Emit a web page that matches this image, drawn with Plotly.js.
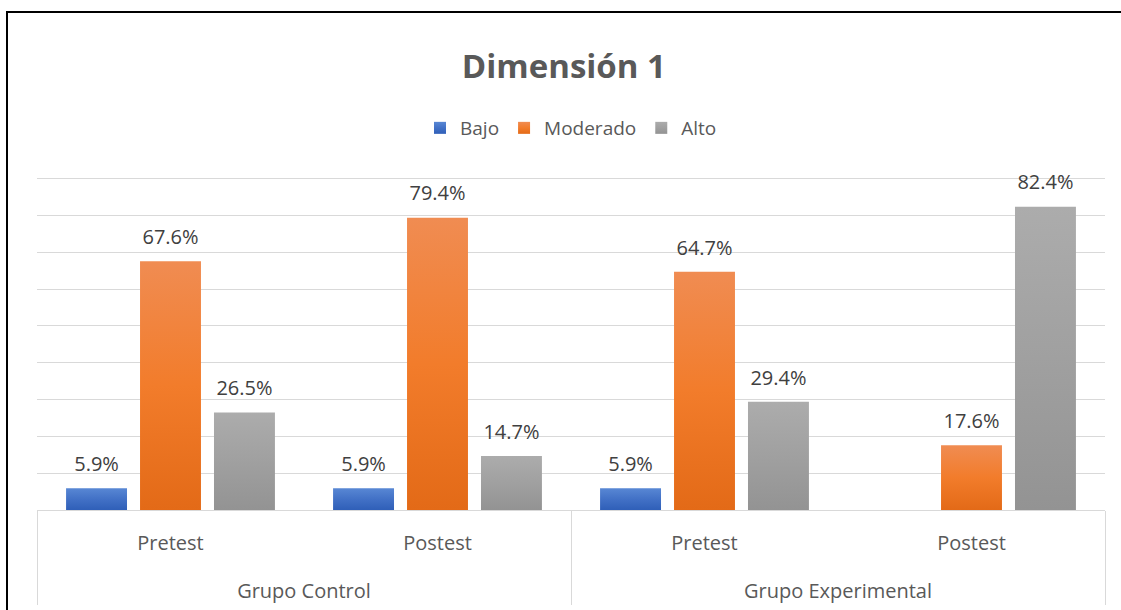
<!DOCTYPE html>
<html>
<head>
<meta charset="utf-8">
<script src="https://cdn.plot.ly/plotly-3.0.1.min.js"></script>
<style>
  html, body { margin: 0; padding: 0; background: #ffffff; overflow: hidden; }
  #chart { position: absolute; left: 0; top: 0; width: 1121px; height: 610px; }
  #frame { position: absolute; left: 6px; top: 11px; width: 1200px; height: 700px;
           border-left: 2px solid #000; border-top: 2px solid #000; pointer-events: none; }
</style>
</head>
<body>
<div id="chart"></div>
<div id="frame"></div>
<script>
// ---- data ----
const groups = ["Grupo Control", "Grupo Control", "Grupo Experimental", "Grupo Experimental"];
const phases = ["Pretest", "Postest", "Pretest", "Postest"];
const bajo = [5.9, 5.9, 5.9, null];
const moderado = [67.6, 79.4, 64.7, 17.6];
const alto = [26.5, 14.7, 29.4, 82.4];
const seriesNames = ["Bajo", "Moderado", "Alto"];
const seriesColors = ["#4472C4", "#ED7D31", "#A5A5A5"];
// Excel-like vertical gradients (top -> bottom) for each series
const seriesGradients = [
  ["#5887D4", "#4271C6", "#2F5FB8"],
  ["#F08C52", "#F27C2B", "#E36A17"],
  ["#ACACAC", "#A0A0A0", "#939393"]
];

const FONT = "Open Sans, Noto Sans, sans-serif";
const values = [bajo, moderado, alto];

// first-level labels get a blank second line so the group row sits lower (Excel-like spacing)
const phaseLabels = phases.map(p => p + "<br><span style='font-size:45px'>&nbsp;</span>");
const xCats = [groups, phaseLabels];

const barTraces = values.map((v, i) => ({
  type: "bar",
  name: seriesNames[i],
  x: xCats,
  y: v,
  marker: { color: seriesColors[i], line: { width: 0 } },
  hoverinfo: "skip"
}));

// value labels, grouped like the bars
const labelTraces = values.map((v, i) => ({
  type: "scatter",
  mode: "text+markers",
  showlegend: false,
  x: xCats,
  y: v,
  marker: { size: 18, opacity: 0, color: seriesColors[i] },
  text: v.map(d => d == null ? "" : d.toFixed(1) + "%"),
  textposition: "top center",
  textfont: { family: FONT, size: 20, color: "#404040" },
  cliponaxis: false,
  hoverinfo: "skip"
}));

const layout = {
  width: 1121,
  height: 610,
  paper_bgcolor: "#ffffff",
  plot_bgcolor: "#ffffff",
  margin: { l: 37, r: 16, t: 175, b: 100 },
  barmode: "group",
  bargap: 0.169,
  bargroupgap: 0.176,
  scattermode: "group",
  scattergap: 0.169,
  title: {
    text: "<b>Dimensión 1</b>",
    font: { family: FONT, size: 33, color: "#595959" },
    x: 0.503, xanchor: "center",
    y: 1 - 66 / 610, yanchor: "middle", yref: "container"
  },
  showlegend: true,
  legend: {
    orientation: "h",
    x: 0.5, xanchor: "center",
    y: 1 - 128 / 610, yanchor: "middle", yref: "container",
    font: { family: FONT, size: 19, color: "#595959" },
    itemclick: false, itemdoubleclick: false,
    tracegroupgap: 0
  },
  xaxis: {
    type: "multicategory",
    showline: true, linecolor: "#d9d9d9", linewidth: 1,
    showdividers: true, dividercolor: "#d9d9d9", dividerwidth: 1,
    ticks: "",
    ticklabelstandoff: 15,
    tickfont: { family: FONT, size: 20, color: "#595959" },
    showgrid: false,
    fixedrange: true
  },
  yaxis: {
    range: [0, 91],
    dtick: 10,
    showticklabels: false,
    showgrid: true, gridcolor: "#d9d9d9", gridwidth: 1,
    zeroline: false,
    showline: false,
    fixedrange: true
  }
};

function applyGradients(gd) {
  const NS = "http://www.w3.org/2000/svg";
  const svg = gd.querySelector("svg.main-svg");
  let defs = svg.querySelector("defs");
  if (!defs) { defs = document.createElementNS(NS, "defs"); svg.insertBefore(defs, svg.firstChild); }
  seriesGradients.forEach((stops, i) => {
    const g = document.createElementNS(NS, "linearGradient");
    g.setAttribute("id", "barGrad" + i);
    g.setAttribute("x1", "0"); g.setAttribute("y1", "0");
    g.setAttribute("x2", "0"); g.setAttribute("y2", "1");
    stops.forEach((c, k) => {
      const s = document.createElementNS(NS, "stop");
      s.setAttribute("offset", (k / (stops.length - 1)).toString());
      s.setAttribute("stop-color", c);
      g.appendChild(s);
    });
    defs.appendChild(g);
  });
  gd.querySelectorAll(".barlayer .trace.bars").forEach((tr, i) => {
    tr.querySelectorAll(".point path").forEach(p => { p.style.fill = "url(#barGrad" + i + ")"; });
  });
  gd.querySelectorAll(".legend .traces").forEach((tr, i) => {
    tr.querySelectorAll(".legendpoints path").forEach(p => { p.style.fill = "url(#barGrad" + i + ")"; });
  });
}

Plotly.newPlot("chart", barTraces.concat(labelTraces), layout, { staticPlot: true, displayModeBar: false })
  .then(applyGradients);
</script>
</body>
</html>
